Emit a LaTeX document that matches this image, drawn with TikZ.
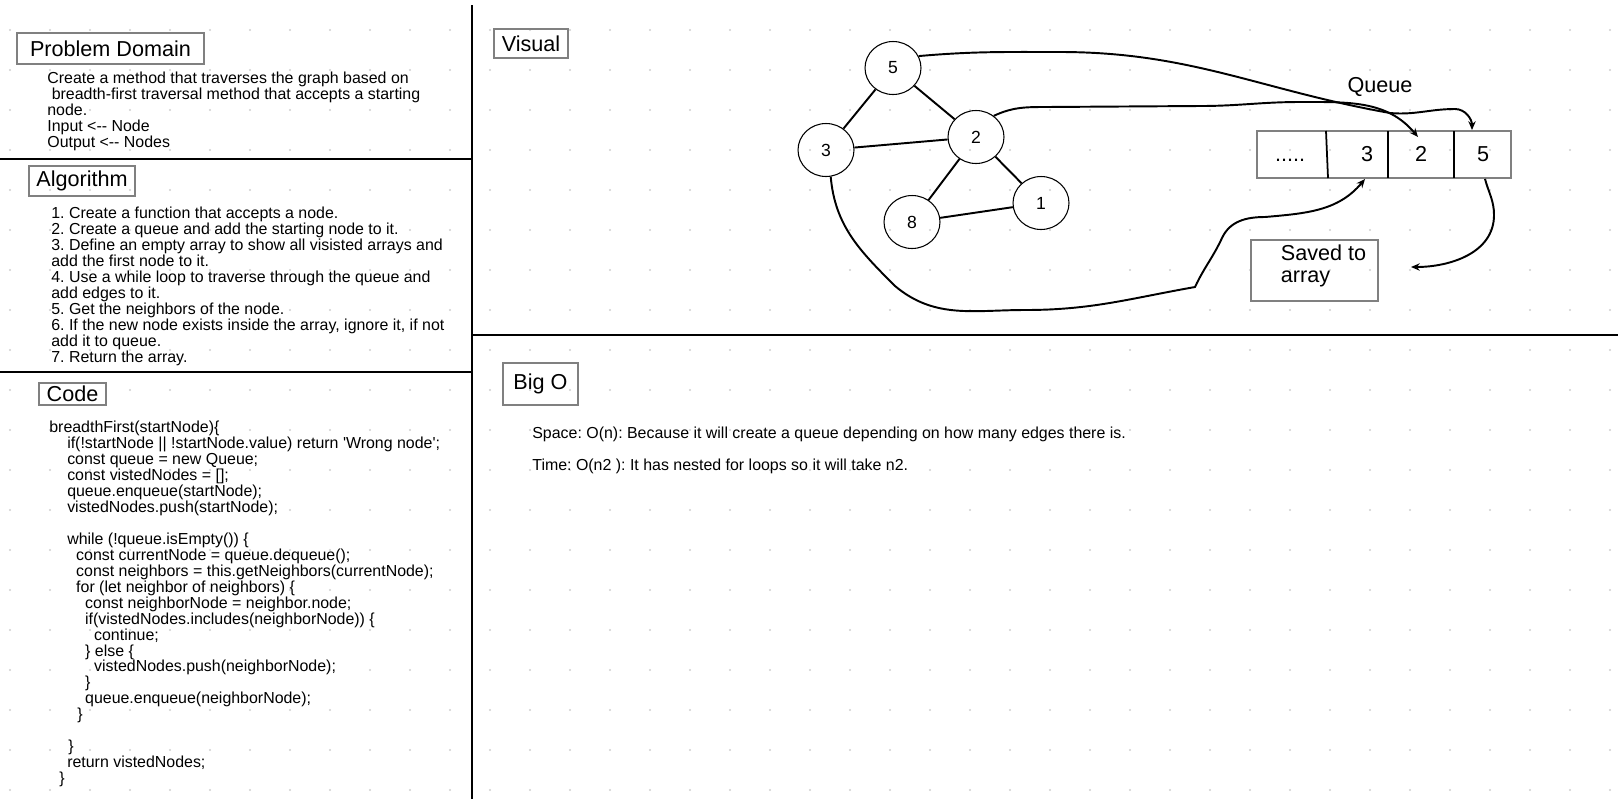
\documentclass[tikz,border=0pt]{standalone}
\usepackage{fontspec}
\newfontfamily\arial{Liberation Sans}
\usetikzlibrary{shapes.geometric,arrows.meta,calc}
\definecolor{boxgray}{HTML}{808080}
\definecolor{dotgray}{HTML}{D0D0D0}
\newcommand{\txtfont}{\arial\fontsize{9.07pt}{9.07pt}\selectfont}
\newcommand{\hdfont}{\arial\fontsize{12.3pt}{12.3pt}\selectfont}
\newcommand{\numfont}{\arial\fontsize{10pt}{10pt}\selectfont}
\frenchspacing

\begin{document}
\begin{tikzpicture}[x=0.02cm,y=-0.02cm,
  titlebox/.style={draw=boxgray,line width=1.13pt,inner sep=0pt,font=\hdfont},
  textblock/.style={anchor=north west,align=left,inner sep=0pt,font=\txtfont},
  vertex/.style={ellipse,draw,line width=0.6pt,minimum width=1.12cm,minimum height=1.06cm,inner sep=0pt,font=\numfont},
  edge/.style={line width=1.1pt},
  flow/.style={line width=1.1pt,-{Stealth[length=5pt,width=4.2pt]}},
  panel/.style={line width=1.2pt}]

  \fill[white] (0,0) rectangle (1618,799);
  \useasboundingbox (0,0) rectangle (1618,799);
  \foreach \x in {10,50,...,1610}
    \foreach \y in {30,70,...,790}
      \fill[dotgray] (\x,\y) circle (0.6pt);

  \draw[panel] (472,5) -- (472,799);
  \draw[panel] (0,159) -- (472,159);
  \draw[panel] (0,372) -- (472,372);
  \draw[panel] (472,335) -- (1618,335);

  \node[titlebox,minimum width=3.74cm,minimum height=0.62cm] (pdtitle) at (110.5,48.5) {Problem Domain};
  \node[textblock] (pdtext) at (47,72) {Create a method that traverses the graph based on\\~breadth-first traversal method that accepts a starting\\node.\\Input <-- Node\\Output <-- Nodes};

  \node[titlebox,minimum width=2.12cm,minimum height=0.6cm] (algtitle) at (82,181) {Algorithm};
  \node[textblock] (algtext) at (51,207) {1. Create a function that accepts a node.\\2. Create a queue and add the starting node to it.\\3. Define an empty array to show all visisted arrays and\\add the first node to it.\\4. Use a while loop to traverse through the queue and\\add edges to it.\\5. Get the neighbors of the node.\\6. If the new node exists inside the array, ignore it, if not\\add it to queue.\\7. Return the array.};

  \node[titlebox,minimum width=1.34cm,minimum height=0.45cm] (codetitle) at (72.5,394) {Code};
  \node[textblock] (codetext) at (49,421) {breadthFirst(startNode)\{\\
    \hspace*{10.2pt}if(!startNode || !startNode.value) return 'Wrong node';\\
    \hspace*{10.2pt}const queue = new Queue;\\
    \hspace*{10.2pt}const vistedNodes = [];\\
    \hspace*{10.2pt}queue.enqueue(startNode);\\
    \hspace*{10.2pt}vistedNodes.push(startNode);\\
    \mbox{}\\
    \hspace*{10.2pt}while (!queue.isEmpty()) \{\\
    \hspace*{15.3pt}const currentNode = queue.dequeue();\\
    \hspace*{15.3pt}const neighbors = this.getNeighbors(currentNode);\\
    \hspace*{15.3pt}for (let neighbor of neighbors) \{\\
    \hspace*{20.4pt}const neighborNode = neighbor.node;\\
    \hspace*{20.4pt}if(vistedNodes.includes(neighborNode)) \{\\
    \hspace*{25.5pt}continue;\\
    \hspace*{20.4pt}\} else \{\\
    \hspace*{25.5pt}vistedNodes.push(neighborNode);\\
    \hspace*{20.4pt}\}\\
    \hspace*{20.4pt}queue.enqueue(neighborNode);\\
    \hspace*{15.9pt}\}\\
    \mbox{}\\
    \hspace*{10.8pt}\}\\
    \hspace*{10.2pt}return vistedNodes;\\
    \hspace*{5.7pt}\}};

  \node[titlebox,minimum width=1.48cm,minimum height=0.58cm] (vistitle) at (531,43.5) {Visual};
  \node[titlebox,minimum width=1.5cm,minimum height=0.84cm] (bigotitle) at (540.5,384) {Big O};
  \node[textblock] (space) at (532,427) {Space: O(n): Because it will create a queue depending on how many edges there is.};
  \node[textblock] (time) at (532,459) {Time: O(n2 ): It has nested for loops so it will take n2.};

  \node[vertex] (n5) at (893,68) {5};
  \node[vertex] (n3) at (826,150) {3};
  \node[vertex] (n2) at (976,137) {2};
  \node[vertex] (n1) at (1041,203) {1};
  \node[vertex] (n8) at (912,222) {8};
  \draw[edge] (n5) -- (n3);
  \draw[edge] (n5) -- (n2);
  \draw[edge] (n3) -- (n2);
  \draw[edge] (n2) -- (n8);
  \draw[edge] (n2) -- (n1);
  \draw[edge] (n8) -- (n1);

  \node[font=\hdfont] (qlabel) at (1380,87) {Queue};
  \node[draw=boxgray,line width=1.13pt,minimum width=5.08cm,minimum height=0.94cm,inner sep=0pt] (queue) at (1384,154.5) {};
  \draw[line width=1pt] (1326,131) -- (1328,178);
  \draw[line width=1pt] (1388,131) -- (1388,178);
  \draw[line width=1pt] (1454,131) -- (1454,178);
  \node[font=\hdfont,anchor=base] (qdots) at (1290,161) {.....};
  \node[font=\hdfont] (q3) at (1367,154) {3};
  \node[font=\hdfont] (q2) at (1421,154) {2};
  \node[font=\hdfont] (q5) at (1483,154) {5};

  \node[draw=boxgray,line width=1.13pt,minimum width=2.54cm,minimum height=1.22cm,inner sep=0pt] (saved) at (1314.5,270.5) {};
  \node[font=\hdfont,align=left] (savedtext) at (1323.5,266) {Saved to\\array};

  \draw[flow] (n5.25) to[out=5,in=180] (1060,52) to[out=0,in=170] (1390,113)
    to[out=-5,in=180] (1455,109) to[out=0,in=90] ($(q5 |- queue.north)+(-11,0)$);
  \draw[flow] (n2.50) to[out=25,in=180] (1045,107) -- (1200,106) to[out=0,in=180] (1300,102)
    to[out=0,in=130] ($(q2 |- queue.north)+(-3,7)$);
  \draw[flow] (n3.-80) to[out=-85,in=135] (895,286) to[out=-40,in=180] (1025,310)
    to[out=0,in=-170] (1195,287) to[out=65,in=-115] (1222,238) to[out=65,in=180] (1265,217)
    to[out=5,in=-130] ($(q3 |- queue.south)+(-2,0)$);
  \draw[flow] ($(q5 |- queue.south)+(2,0)$) to[out=-75,in=90] (1494,215)
    to[out=-90,in=0] ($(saved.east)+(32,-3.5)$);
\end{tikzpicture}
\end{document}
